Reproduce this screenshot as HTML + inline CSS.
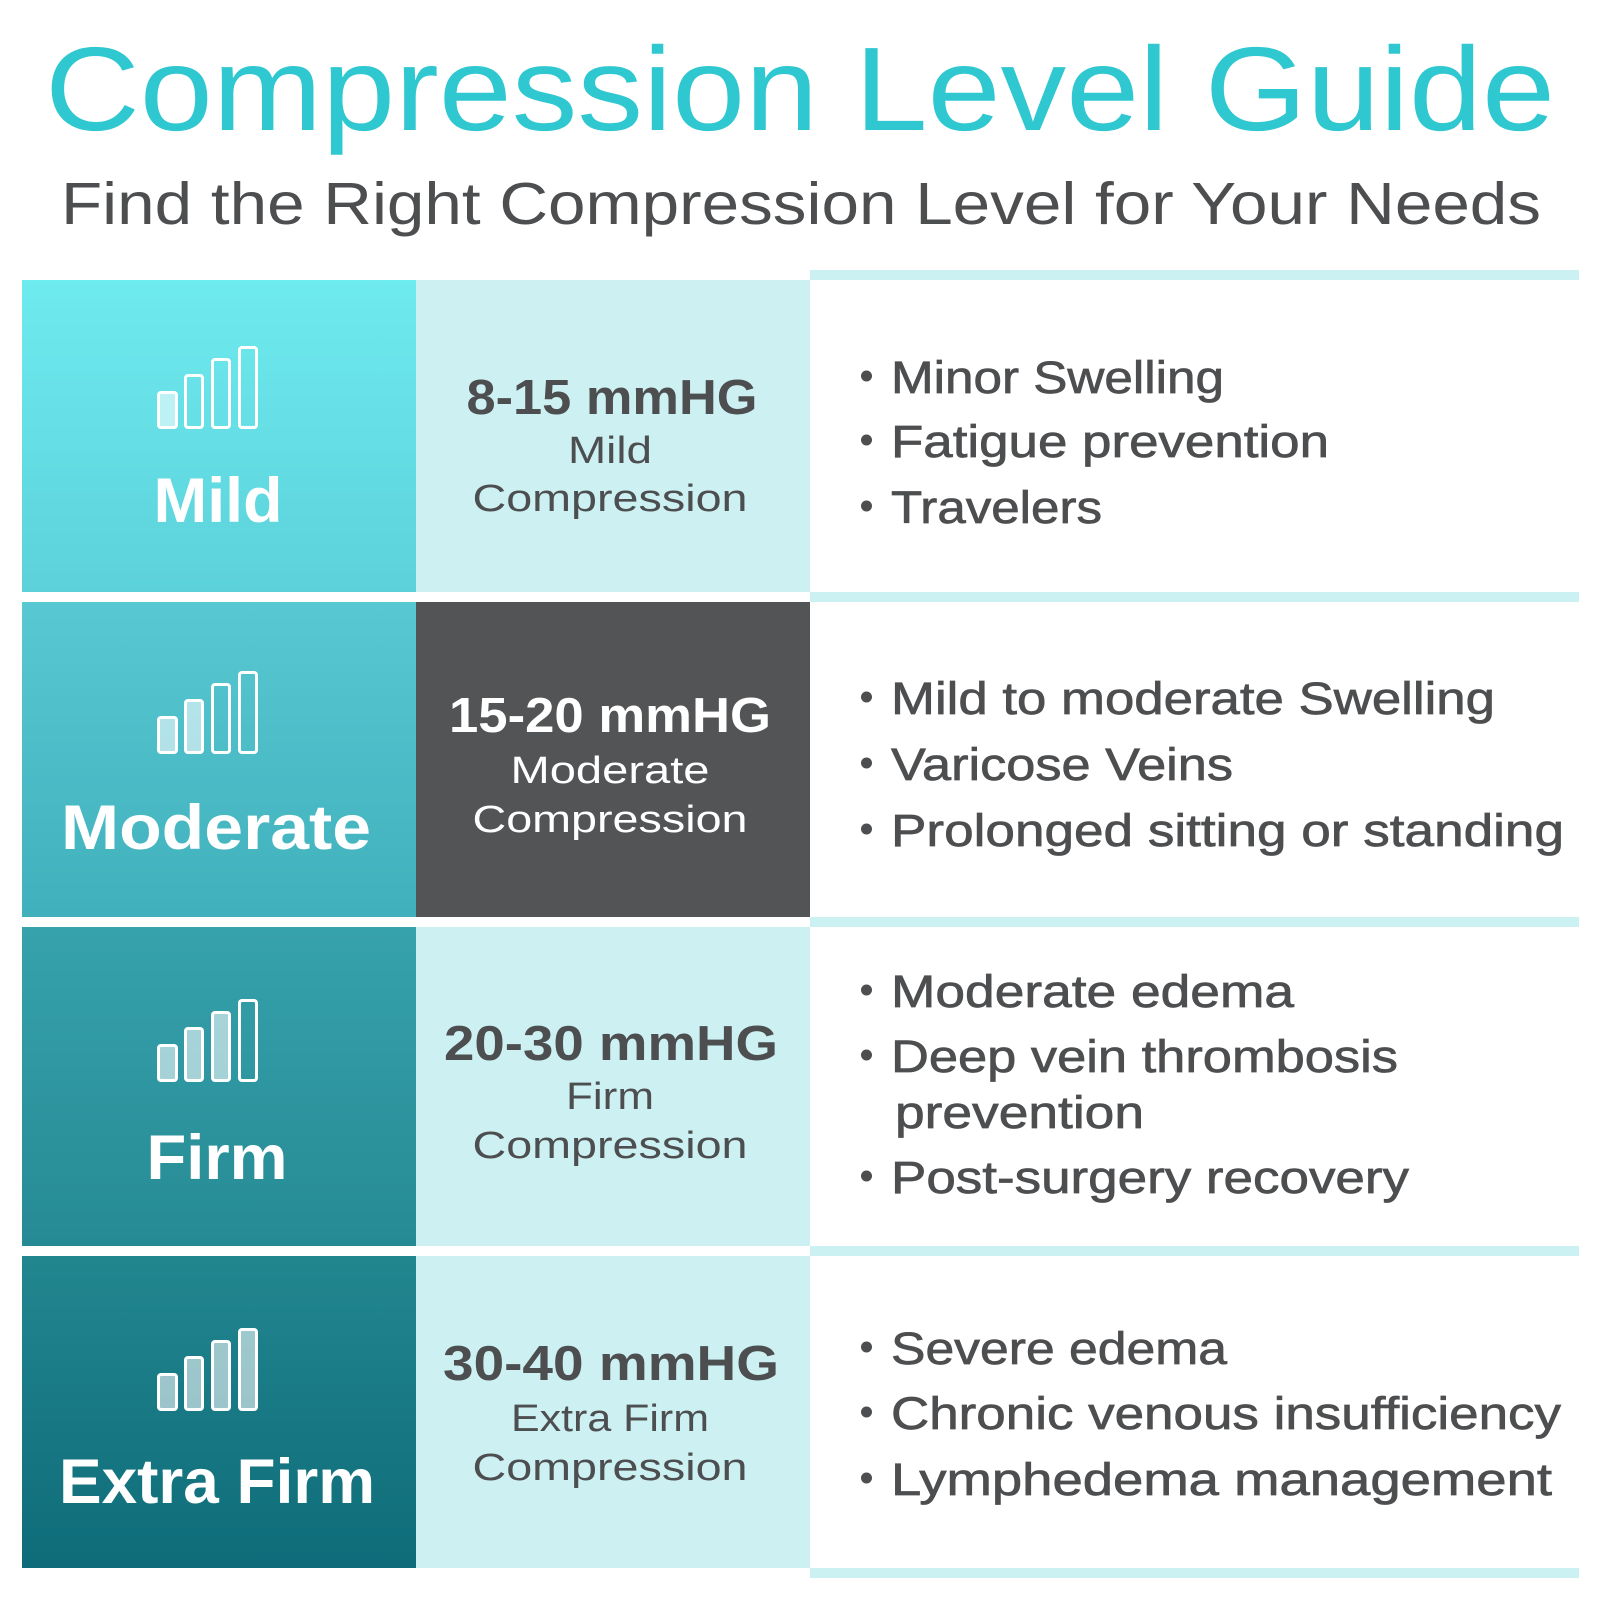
<!DOCTYPE html>
<html>
<head>
<meta charset="utf-8">
<style>
html,body{margin:0;padding:0;background:#fff;}
svg{display:block}
text{font-family:"Liberation Sans",sans-serif}
</style>
</head>
<body>
<svg width="1600" height="1600" viewBox="0 0 1600 1600" xmlns="http://www.w3.org/2000/svg">
<defs>
<linearGradient id="g1" x1="0" y1="0" x2="0" y2="1"><stop offset="0" stop-color="#6EEBEF"/><stop offset="1" stop-color="#5CD1DA"/></linearGradient>
<linearGradient id="g2" x1="0" y1="0" x2="0" y2="1"><stop offset="0" stop-color="#58C8D2"/><stop offset="1" stop-color="#40B0BC"/></linearGradient>
<linearGradient id="g3" x1="0" y1="0" x2="0" y2="1"><stop offset="0" stop-color="#36A2AC"/><stop offset="1" stop-color="#268A94"/></linearGradient>
<linearGradient id="g4" x1="0" y1="0" x2="0" y2="1"><stop offset="0" stop-color="#22868F"/><stop offset="1" stop-color="#0E6C79"/></linearGradient>
</defs>
<rect width="1600" height="1600" fill="#fff"/>

<!-- Title -->
<text x="45" y="130" font-size="119" fill="#2FC8D0" textLength="1510" lengthAdjust="spacingAndGlyphs">Compression Level Guide</text>
<text x="61" y="224" font-size="59" fill="#4D4E50" textLength="1480" lengthAdjust="spacingAndGlyphs">Find the Right Compression Level for Your Needs</text>

<!-- Right column separator lines -->
<g fill="#CCF1F3">
<rect x="810" y="270" width="769" height="10"/>
<rect x="810" y="592" width="769" height="10"/>
<rect x="810" y="917" width="769" height="10"/>
<rect x="810" y="1246" width="769" height="10"/>
<rect x="810" y="1568" width="769" height="10"/>
</g>

<!-- Row 1 -->
<rect x="22" y="280" width="394" height="312" fill="url(#g1)"/>
<rect x="416" y="280" width="394" height="312" fill="#CDF1F3"/>
<g stroke="#fff" stroke-width="3">
<rect x="158.5" y="392.5" width="18" height="35" rx="2.5" fill="rgba(255,255,255,0.57)"/>
<rect x="185.5" y="375.5" width="17" height="52" rx="2.5" fill="none"/>
<rect x="212.5" y="359.5" width="17" height="68" rx="2.5" fill="none"/>
<rect x="239.5" y="347.5" width="17" height="80" rx="2.5" fill="none"/>
</g>
<text x="218" y="522" font-size="63" font-weight="bold" fill="#fff" text-anchor="middle" textLength="129" lengthAdjust="spacingAndGlyphs">Mild</text>
<text x="612" y="414" font-size="49" font-weight="bold" fill="#4D4E50" text-anchor="middle" textLength="291" lengthAdjust="spacingAndGlyphs">8-15 mmHG</text>
<text x="610" y="463" font-size="38" fill="#4D4E50" text-anchor="middle" textLength="84" lengthAdjust="spacingAndGlyphs">Mild</text>
<text x="610" y="511" font-size="38" fill="#4D4E50" text-anchor="middle" textLength="275" lengthAdjust="spacingAndGlyphs">Compression</text>

<!-- Row 2 -->
<rect x="22" y="602" width="394" height="315" fill="url(#g2)"/>
<rect x="416" y="602" width="394" height="315" fill="#535456"/>
<g stroke="#fff" stroke-width="3">
<rect x="158.5" y="717.5" width="18" height="35" rx="2.5" fill="rgba(255,255,255,0.57)"/>
<rect x="185.5" y="700.5" width="17" height="52" rx="2.5" fill="rgba(255,255,255,0.57)"/>
<rect x="212.5" y="684.5" width="17" height="68" rx="2.5" fill="none"/>
<rect x="239.5" y="672.5" width="17" height="80" rx="2.5" fill="none"/>
</g>
<text x="216" y="849" font-size="63" font-weight="bold" fill="#fff" text-anchor="middle" textLength="310" lengthAdjust="spacingAndGlyphs">Moderate</text>
<text x="610" y="732" font-size="49" font-weight="bold" fill="#fff" text-anchor="middle" textLength="322" lengthAdjust="spacingAndGlyphs">15-20 mmHG</text>
<text x="610" y="783" font-size="38" fill="#fff" text-anchor="middle" textLength="199" lengthAdjust="spacingAndGlyphs">Moderate</text>
<text x="610" y="832" font-size="38" fill="#fff" text-anchor="middle" textLength="275" lengthAdjust="spacingAndGlyphs">Compression</text>

<!-- Row 3 -->
<rect x="22" y="927" width="394" height="319" fill="url(#g3)"/>
<rect x="416" y="927" width="394" height="319" fill="#CDF1F3"/>
<g stroke="#fff" stroke-width="3">
<rect x="158.5" y="1045.5" width="18" height="35" rx="2.5" fill="rgba(255,255,255,0.57)"/>
<rect x="185.5" y="1028.5" width="17" height="52" rx="2.5" fill="rgba(255,255,255,0.57)"/>
<rect x="212.5" y="1012.5" width="17" height="68" rx="2.5" fill="rgba(255,255,255,0.57)"/>
<rect x="239.5" y="1000.5" width="17" height="80" rx="2.5" fill="none"/>
</g>
<text x="217" y="1179" font-size="63" font-weight="bold" fill="#fff" text-anchor="middle" textLength="141" lengthAdjust="spacingAndGlyphs">Firm</text>
<text x="611" y="1060" font-size="49" font-weight="bold" fill="#4D4E50" text-anchor="middle" textLength="334" lengthAdjust="spacingAndGlyphs">20-30 mmHG</text>
<text x="610" y="1109" font-size="38" fill="#4D4E50" text-anchor="middle" textLength="88" lengthAdjust="spacingAndGlyphs">Firm</text>
<text x="610" y="1158" font-size="38" fill="#4D4E50" text-anchor="middle" textLength="275" lengthAdjust="spacingAndGlyphs">Compression</text>

<!-- Row 4 -->
<rect x="22" y="1256" width="394" height="312" fill="url(#g4)"/>
<rect x="416" y="1256" width="394" height="312" fill="#CDF1F3"/>
<g stroke="#fff" stroke-width="3">
<rect x="158.5" y="1374.5" width="18" height="35" rx="2.5" fill="rgba(255,255,255,0.57)"/>
<rect x="185.5" y="1357.5" width="17" height="52" rx="2.5" fill="rgba(255,255,255,0.57)"/>
<rect x="212.5" y="1341.5" width="17" height="68" rx="2.5" fill="rgba(255,255,255,0.57)"/>
<rect x="239.5" y="1329.5" width="17" height="80" rx="2.5" fill="rgba(255,255,255,0.57)"/>
</g>
<text x="217" y="1503" font-size="63" font-weight="bold" fill="#fff" text-anchor="middle" textLength="316" lengthAdjust="spacingAndGlyphs">Extra Firm</text>
<text x="611" y="1380" font-size="49" font-weight="bold" fill="#4D4E50" text-anchor="middle" textLength="336" lengthAdjust="spacingAndGlyphs">30-40 mmHG</text>
<text x="610" y="1431" font-size="38" fill="#4D4E50" text-anchor="middle" textLength="198" lengthAdjust="spacingAndGlyphs">Extra Firm</text>
<text x="610" y="1480" font-size="38" fill="#4D4E50" text-anchor="middle" textLength="275" lengthAdjust="spacingAndGlyphs">Compression</text>

<!-- Right column bullets -->
<g fill="#4D4E50">
<circle cx="866.5" cy="376" r="5.5"/>
<circle cx="866.5" cy="440" r="5.5"/>
<circle cx="866.5" cy="506" r="5.5"/>
<circle cx="866.5" cy="697" r="5.5"/>
<circle cx="866.5" cy="763" r="5.5"/>
<circle cx="866.5" cy="829" r="5.5"/>
<circle cx="866.5" cy="990" r="5.5"/>
<circle cx="866.5" cy="1055" r="5.5"/>
<circle cx="866.5" cy="1176" r="5.5"/>
<circle cx="866.5" cy="1347" r="5.5"/>
<circle cx="866.5" cy="1412" r="5.5"/>
<circle cx="866.5" cy="1478" r="5.5"/>
</g>
<g font-size="45" fill="#4D4E50" stroke="#4D4E50" stroke-width="0.7">
<text x="891" y="393" textLength="333" lengthAdjust="spacingAndGlyphs">Minor Swelling</text>
<text x="891" y="457" textLength="438" lengthAdjust="spacingAndGlyphs">Fatigue prevention</text>
<text x="891" y="523" textLength="211" lengthAdjust="spacingAndGlyphs">Travelers</text>

<text x="891" y="714" textLength="604" lengthAdjust="spacingAndGlyphs">Mild to moderate Swelling</text>
<text x="891" y="780" textLength="342" lengthAdjust="spacingAndGlyphs">Varicose Veins</text>
<text x="891" y="846" textLength="673" lengthAdjust="spacingAndGlyphs">Prolonged sitting or standing</text>

<text x="891" y="1007" textLength="403" lengthAdjust="spacingAndGlyphs">Moderate edema</text>
<text x="891" y="1072" textLength="507" lengthAdjust="spacingAndGlyphs">Deep vein thrombosis</text>
<text x="895" y="1128" textLength="249" lengthAdjust="spacingAndGlyphs">prevention</text>
<text x="891" y="1193" textLength="518" lengthAdjust="spacingAndGlyphs">Post-surgery recovery</text>

<text x="891" y="1364" textLength="336" lengthAdjust="spacingAndGlyphs">Severe edema</text>
<text x="891" y="1429" textLength="670" lengthAdjust="spacingAndGlyphs">Chronic venous insufficiency</text>
<text x="891" y="1495" textLength="661" lengthAdjust="spacingAndGlyphs">Lymphedema management</text>
</g>
</svg>
</body>
</html>
